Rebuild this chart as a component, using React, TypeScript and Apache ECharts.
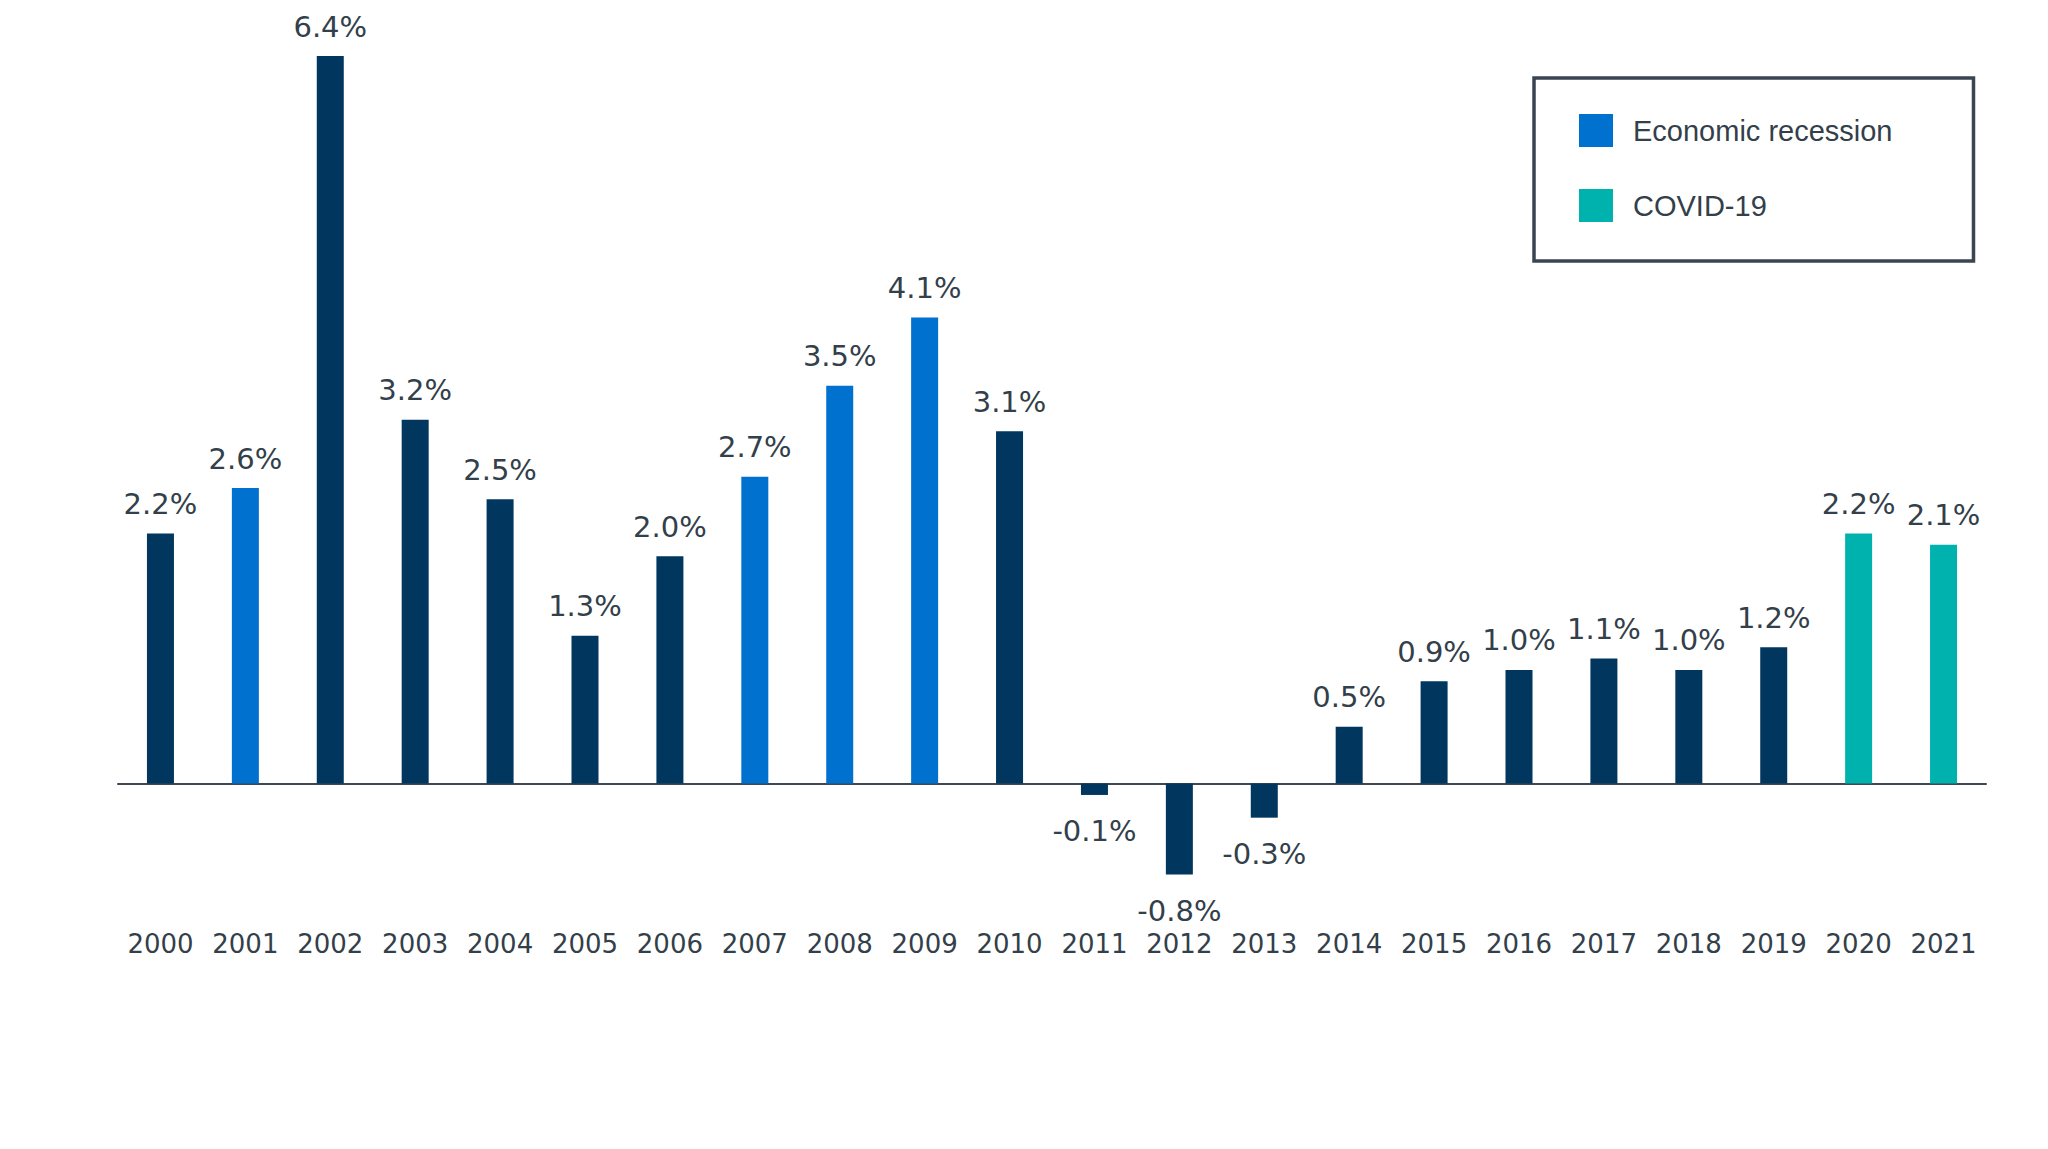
import React, { useEffect, useRef } from "react";
import * as echarts from "echarts";

const years = ["2000","2001","2002","2003","2004","2005","2006","2007","2008","2009","2010","2011","2012","2013","2014","2015","2016","2017","2018","2019","2020","2021"];
const values = [2.2, 2.6, 6.4, 3.2, 2.5, 1.3, 2.0, 2.7, 3.5, 4.1, 3.1, -0.1, -0.8, -0.3, 0.5, 0.9, 1.0, 1.1, 1.0, 1.2, 2.2, 2.1];
const recessionYears = ["2001", "2007", "2008", "2009"];
const covidYears = ["2020", "2021"];

const NAVY = "#01375f";
const BLUE = "#0071ce";
const TEAL = "#00b2ae";
const TEXT = "#333f4a";

export default function App() {
  const ref = useRef<HTMLDivElement>(null);
  useEffect(() => {
    if (!ref.current) return;
    const chart = echarts.init(ref.current, null, { renderer: "svg" });
    const labelBase = {
      show: true,
      position: "top",
      distance: 15,
      fontFamily: "DejaVu Sans",
      fontSize: 29,
      lineHeight: 29,
      color: TEXT,
      formatter: (p: any) => Number(p.value).toFixed(1) + "%",
    };
    const mk = (pred: (y: string) => boolean) =>
      years.map((y, i) => {
        if (!pred(y)) return null;
        const v = values[i];
        if (v < 0) return { value: v, label: { position: "bottom", distance: 22 } };
        return v;
      });
    const other = (y: string) => !recessionYears.includes(y) && !covidYears.includes(y);
    chart.setOption({
      animation: false,
      grid: { left: 118, right: 62, top: 56, bottom: 229, containLabel: false },
      xAxis: {
        type: "category",
        data: years,
        axisLine: { show: true, onZero: true, lineStyle: { color: "#3d4852", width: 2 } },
        axisTick: { show: false },
        axisLabel: {
          interval: 0,
          margin: 24,
          verticalAlign: "middle",
          fontFamily: "DejaVu Sans",
          fontSize: 26,
          color: TEXT,
        },
      },
      yAxis: {
        type: "value",
        min: -1.2,
        max: 6.4,
        show: false,
        splitLine: { show: false },
      },
      legend: {
        show: true,
        orient: "vertical",
        left: 1534,
        top: 78,
        data: ["Economic recession", "COVID-19"],
        icon: "rect",
        itemWidth: 34,
        itemHeight: 33,
        itemGap: 42,
        padding: [36, 81, 39, 45],
        borderColor: "#3a4550",
        borderWidth: 3.5,
        selectedMode: false,
        textStyle: {
          fontFamily: "Liberation Sans",
          fontSize: 29,
          color: TEXT,
          padding: [0, 0, 0, 15],
        },
      },
      series: [
        {
          name: "Other",
          type: "bar",
          barWidth: 27,
          barGap: "-100%",
          itemStyle: { color: NAVY },
          label: labelBase,
          data: mk(other),
        },
        {
          name: "Economic recession",
          type: "bar",
          barWidth: 27,
          barGap: "-100%",
          itemStyle: { color: BLUE },
          label: labelBase,
          data: mk((y) => recessionYears.includes(y)),
        },
        {
          name: "COVID-19",
          type: "bar",
          barWidth: 27,
          barGap: "-100%",
          itemStyle: { color: TEAL },
          label: labelBase,
          data: mk((y) => covidYears.includes(y)),
        },
      ],
    });
    return () => chart.dispose();
  }, []);
  return (
    <div
      ref={ref}
      style={{ position: "absolute", left: 0, top: 0, width: 2048, height: 1149, background: "#fff" }}
    />
  );
}
